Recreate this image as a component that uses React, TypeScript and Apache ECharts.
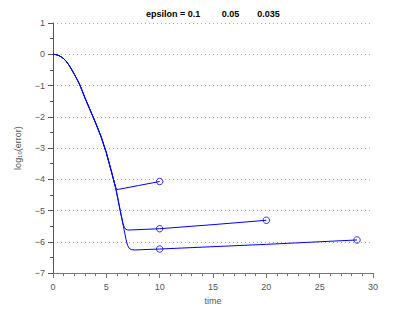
import React, { useEffect, useRef } from "react";
import * as echarts from "echarts";

// eps = 0.1
const t1 = [0, 0.25, 0.5, 0.75, 1, 1.25, 1.5, 1.75, 2, 2.25, 2.5, 2.75, 3, 3.5, 4, 4.5, 5, 5.5, 5.75, 5.9, 6.0, 6.15, 8, 10];
const v1 = [0, -0.01, -0.035, -0.08, -0.14, -0.23, -0.35, -0.49, -0.64, -0.8, -0.97, -1.18, -1.4, -1.8, -2.2, -2.63, -3.15, -3.78, -4.11, -4.28, -4.32, -4.32, -4.2, -4.07];
// eps = 0.05
const t2 = [0, 0.25, 0.5, 0.75, 1, 1.25, 1.5, 1.75, 2, 2.25, 2.5, 2.75, 3, 3.5, 4, 4.5, 5, 5.5, 5.9, 6.3, 6.55, 6.7, 6.85, 7.0, 7.3, 10, 15, 20];
const v2 = [0, -0.01, -0.035, -0.08, -0.14, -0.23, -0.35, -0.49, -0.64, -0.8, -0.97, -1.18, -1.4, -1.8, -2.2, -2.63, -3.15, -3.78, -4.31, -5.0, -5.4, -5.55, -5.6, -5.62, -5.62, -5.58, -5.45, -5.31];
// eps = 0.035
const t3 = [0, 0.25, 0.5, 0.75, 1, 1.25, 1.5, 1.75, 2, 2.25, 2.5, 2.75, 3, 3.5, 4, 4.5, 5, 5.5, 5.9, 6.3, 6.6, 6.85, 7.0, 7.15, 7.35, 7.6, 10, 20, 28.5];
const v3 = [0, -0.01, -0.035, -0.08, -0.14, -0.23, -0.35, -0.49, -0.64, -0.8, -0.97, -1.18, -1.4, -1.8, -2.2, -2.63, -3.15, -3.78, -4.31, -5.0, -5.5, -5.93, -6.12, -6.21, -6.25, -6.26, -6.23, -6.08, -5.94];

// circle markers
const markerT = [10, 10, 20, 10, 28.5];
const markerV = [-4.07, -5.58, -5.31, -6.23, -5.94];

const epsilons = ["0.1", "0.05", "0.035"];
const xTicks = [0, 5, 10, 15, 20, 25, 30];
const yTicks = [1, 0, -1, -2, -3, -4, -5, -6, -7];

const BLUE = "#0000ff";
const FONT = "'Liberation Sans', Arial, sans-serif";

const zip = (a: number[], b: number[]) => a.map((x, i) => [x, b[i]]);

export default function App() {
  const ref = useRef<HTMLDivElement>(null);
  useEffect(() => {
    if (!ref.current) return;
    const chart = echarts.init(ref.current, null, { renderer: "svg" });
    const lineSeries = [zip(t1, v1), zip(t2, v2), zip(t3, v3)].map((d) => ({
      type: "line",
      data: d,
      showSymbol: false,
      symbol: "none",
      smooth: false,
      lineStyle: { color: BLUE, width: 1 },
      z: 3,
    }));
    const titleX = [146, 221.7, 257.3];
    chart.setOption({
      animation: false,
      textStyle: { fontFamily: FONT },
      grid: { left: 53, right: 39, top: 23, bottom: 35, containLabel: false },
      graphic: epsilons.map((e, i) => ({
        type: "text",
        x: titleX[i],
        y: 13.5,
        style: {
          text: i === 0 ? "epsilon = " + e : e,
          fontSize: 9,
          fontWeight: "bold",
          fontFamily: FONT,
          fill: "#000",
          verticalAlign: "middle",
          align: "left",
        },
      })),
      xAxis: {
        type: "value",
        min: xTicks[0],
        max: xTicks[xTicks.length - 1],
        interval: 5,
        name: "time",
        nameLocation: "middle",
        nameGap: 21,
        nameTextStyle: { fontSize: 9, color: "#555", fontFamily: FONT },
        axisLine: { show: true, onZero: false, lineStyle: { color: "#777", width: 1 } },
        axisTick: { show: true, length: 5, lineStyle: { color: "#777" } },
        minorTick: { show: true, splitNumber: 5, length: 3, lineStyle: { color: "#777" } },
        axisLabel: { fontSize: 9, color: "#555", margin: 9, fontFamily: FONT },
        splitLine: { show: false },
      },
      yAxis: {
        type: "value",
        min: yTicks[yTicks.length - 1],
        max: yTicks[0],
        interval: 1,
        name: "log{sub|10}(error)",
        nameLocation: "middle",
        nameGap: 30,
        nameTextStyle: {
          fontSize: 9,
          color: "#555",
          fontFamily: FONT,
          rich: { sub: { fontSize: 6, color: "#555", padding: [5, 0, 0, 0], fontFamily: FONT } },
        },
        axisLine: { show: true, onZero: false, lineStyle: { color: "#555", width: 1 } },
        axisTick: { show: true, length: 5, lineStyle: { color: "#555" } },
        minorTick: { show: true, splitNumber: 2, length: 3, lineStyle: { color: "#555" } },
        axisLabel: {
          fontSize: 9,
          color: "#555",
          margin: 8,
          fontFamily: FONT,
          formatter: (v: number) => String(v).replace("-", "\u2212"),
        },
        splitLine: { show: true, lineStyle: { color: "#aaa", type: [1, 3], width: 1 } },
      },
      series: [
        ...lineSeries,
        {
          type: "scatter",
          data: zip(markerT, markerV),
          symbol: "circle",
          symbolSize: 6.5,
          itemStyle: { color: "rgba(255,255,255,0)", borderColor: BLUE, borderWidth: 1 },
          z: 4,
        },
      ],
    });
    return () => chart.dispose();
  }, []);
  return <div ref={ref} style={{ width: 412, height: 310, position: "absolute", left: 0, top: 0 }} />;
}
